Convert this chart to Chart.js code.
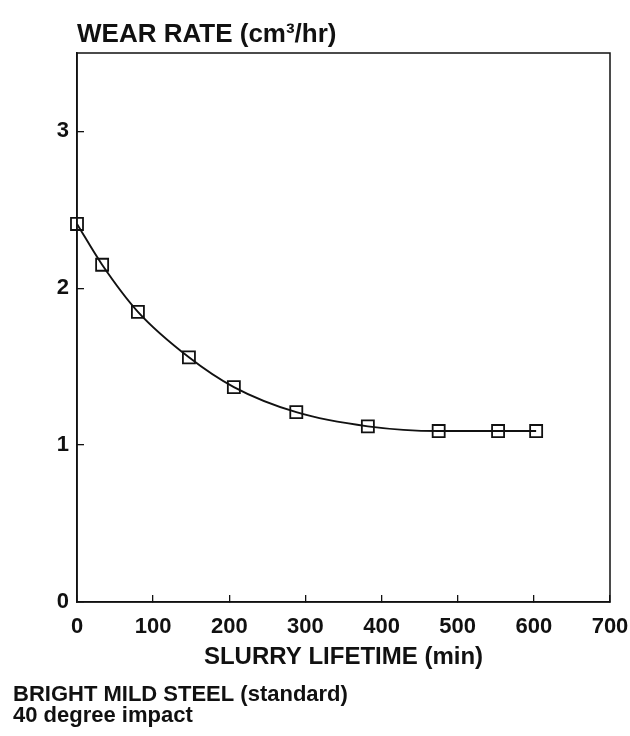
<!DOCTYPE html>
<html>
<head>
<meta charset="utf-8">
<script src="https://cdn.jsdelivr.net/npm/chart.js@4"></script>
<style>
  html, body { margin: 0; padding: 0; background: #fff; }
  canvas { display: block; }
</style>
</head>
<body>
<canvas id="wear_chart" width="630" height="736"></canvas>
<script>
// values
const lifetime_min = [0, 33, 80, 147, 206, 288, 382, 475, 553, 603]
const wear_rate = [2.41, 2.15, 1.85, 1.56, 1.37, 1.21, 1.12, 1.09, 1.09, 1.09]
const x_ticks = [0, 100, 200, 300, 400, 500, 600, 700]
const y_ticks = [0, 1, 2, 3]

const title_text = 'WEAR RATE (cm\u00b3/hr)'
const x_title = 'SLURRY LIFETIME (min)'
const notes = ['BRIGHT MILD STEEL (standard)', '40 degree impact']

const FONT = '"Liberation Sans", Arial, Helvetica, sans-serif'
const INK = '#111'

// frame on top/right plus the text outside the axes
const extras = {
    id: 'extras',
    afterDraw(chart) {
        const ctx = chart.ctx
        const a = chart.chartArea
        ctx.save()
        ctx.strokeStyle = INK
        ctx.lineWidth = 1.5
        ctx.strokeRect(a.left, a.top, a.right - a.left, a.bottom - a.top)

        ctx.fillStyle = INK
        ctx.textBaseline = 'alphabetic'
        ctx.textAlign = 'left'
        ctx.font = 'bold 26px ' + FONT
        ctx.fillText(title_text, a.left, 42)

        ctx.font = 'bold 22px ' + FONT
        ctx.fillText(notes[0], 13, 701)
        ctx.fillText(notes[1], 13, 722)
        ctx.restore()
    }
}

let data = {
    datasets: [{
        label: 'wear rate',
        data: lifetime_min.map((x, i) => ({ x: x, y: wear_rate[i] })),
        borderColor: INK,
        borderWidth: 1.9,
        backgroundColor: 'rgba(0,0,0,0)',
        pointStyle: 'rect',
        pointRadius: 8.5,
        pointBorderWidth: 1.8,
        pointBorderColor: INK,
        pointBackgroundColor: 'rgba(0,0,0,0)',
        cubicInterpolationMode: 'monotone',
        clip: false
    }]
}

let config = {
    type: 'line',
    data: data,
    options: {
        responsive: false,
        animation: false,
        devicePixelRatio: 1,
        layout: {
            padding: { left: 0, top: 53, right: 20, bottom: 64 }
        },
        plugins: {
            legend: { display: false },
            tooltip: { enabled: false }
        },
        scales: {
            x: {
                type: 'linear',
                min: 0,
                max: 700,
                afterBuildTicks: s => { s.ticks = x_ticks.map(v => ({ value: v })) },
                afterFit: s => { s.height = 70; s.paddingLeft = 0; s.paddingRight = 0 },
                border: { display: true, color: INK, width: 1.6 },
                grid: { drawOnChartArea: false, drawTicks: true, tickLength: -7, color: INK, lineWidth: 1.3 },
                ticks: { color: INK, padding: 19, maxRotation: 0, font: { family: FONT, size: 22, weight: 'bold' } },
                title: {
                    display: true,
                    text: x_title,
                    color: INK,
                    padding: { top: 0, bottom: 0 },
                    font: { family: FONT, size: 24, weight: 'bold' }
                }
            },
            y: {
                min: 0,
                max: 3.5,
                afterBuildTicks: s => { s.ticks = y_ticks.map(v => ({ value: v })) },
                afterFit: s => { s.width = 77 },
                border: { display: true, color: INK, width: 1.6 },
                grid: { drawOnChartArea: false, drawTicks: true, tickLength: -7, color: INK, lineWidth: 1.3 },
                ticks: { color: INK, padding: 15, font: { family: FONT, size: 22, weight: 'bold' } }
            }
        }
    },
    plugins: [extras]
}

new Chart(document.getElementById('wear_chart'), config)
</script>
</body>
</html>
